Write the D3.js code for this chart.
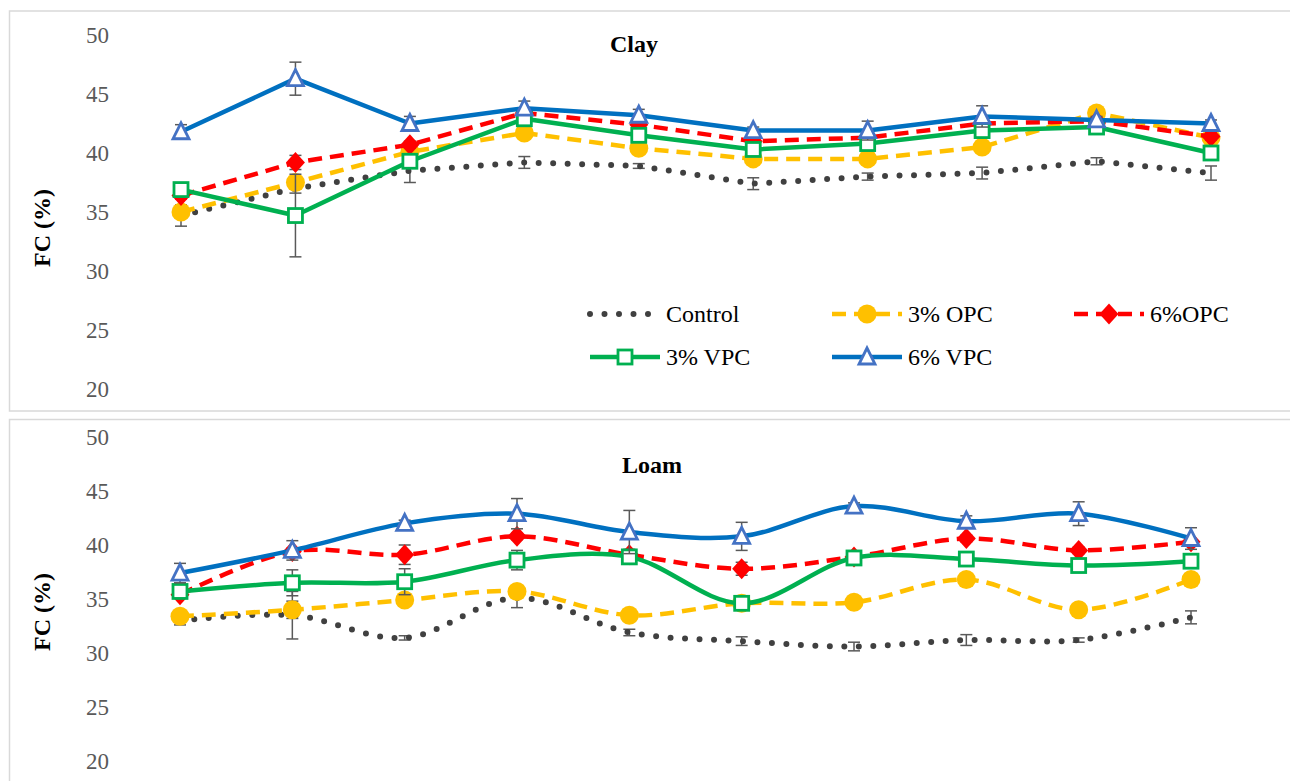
<!DOCTYPE html>
<html>
<head>
<meta charset="utf-8">
<script src="https://cdn.jsdelivr.net/npm/d3@7"></script>
<style>
  body { margin: 0; background: #fff; }
  svg { display: block; }
  svg text { font-family: "Liberation Serif", "Times New Roman", Times, "DejaVu Serif", serif; }
</style>
</head>
<body>
<svg id="chart" width="1290" height="781"></svg>
<script>
// ---------- DATA ----------
const categories = [1, 2, 3, 4, 5, 6, 7, 8, 9, 10];
const seriesNames = ["Control", "3% OPC", "6%OPC", "3% VPC", "6% VPC"];
const yTicks = [20, 25, 30, 35, 40, 45, 50];

// Clay
const clayControl = [34.7, 37.0, 38.5, 39.2, 38.9, 37.4, 38.0, 38.3, 39.3, 38.3];
const clay3OPC    = [35.0, 37.5, 40.1, 41.7, 40.4, 39.5, 39.5, 40.5, 43.4, 41.3];
const clay6OPC    = [36.4, 39.2, 40.7, 43.4, 42.4, 41.0, 41.3, 42.5, 42.7, 41.4];
const clay3VPC    = [36.9, 34.7, 39.3, 42.9, 41.5, 40.3, 40.8, 41.9, 42.2, 40.0];
const clay6VPC    = [41.8, 46.3, 42.5, 43.8, 43.2, 41.9, 41.9, 43.1, 42.8, 42.5];
const clayControlErr = [0.9, 0.4, 1.0, 0.5, 0.2, 0.5, 0.3, 0.5, 0.3, 0.6];
const clay3OPCErr    = [0.3, 0.3, 0.3, 0.3, 0.3, 0.3, 0.3, 0.3, 0.3, 0.3];
const clay6OPCErr    = [0.3, 0.6, 0.3, 0.3, 0.3, 0.3, 0.3, 0.3, 0.3, 0.3];
const clay3VPCErr    = [0.5, 3.5, 0.4, 0.3, 0.3, 0.3, 0.3, 0.3, 0.3, 0.4];
const clay6VPCErr    = [0.6, 1.4, 0.6, 0.6, 0.5, 0.3, 0.8, 0.9, 0.3, 0.3];

// Loam
const loamControl = [33.0, 33.5, 31.4, 35.1, 31.9, 31.1, 30.6, 31.2, 31.2, 33.3];
const loam3OPC    = [33.4, 34.0, 34.9, 35.7, 33.5, 34.6, 34.7, 36.8, 34.0, 36.8];
const loam6OPC    = [35.4, 39.4, 39.1, 40.8, 39.1, 37.8, 38.9, 40.6, 39.5, 40.3];
const loam3VPC    = [35.7, 36.5, 36.6, 38.6, 38.9, 34.6, 38.8, 38.7, 38.1, 38.5];
const loam6VPC    = [37.4, 39.5, 42.0, 42.9, 41.2, 40.8, 43.6, 42.2, 42.9, 40.6];
const loamControlErr = [0.4, 2.2, 0.2, 0.9, 0.3, 0.4, 0.4, 0.5, 0.2, 0.6];
const loam3OPCErr    = [0.3, 0.8, 0.3, 0.3, 0.3, 0.3, 0.3, 0.3, 0.3, 0.3];
const loam6OPCErr    = [0.3, 0.3, 0.9, 0.3, 0.5, 0.6, 0.3, 0.3, 0.3, 0.3];
const loam3VPCErr    = [0.3, 1.2, 1.2, 0.9, 0.3, 0.4, 0.5, 0.4, 0.5, 0.3];
const loam6VPCErr    = [0.9, 0.9, 0.3, 1.4, 2.0, 1.3, 0.3, 0.5, 1.1, 1.0];

// ---------- STYLES ----------
const styles = [
  { color: "#404040", dash: "0 14.5", width: 6, cap: "round", marker: "none" },
  { color: "#FFC000", dash: "14 8", width: 4.5, cap: "butt", marker: "circle" },
  { color: "#FF0000", dash: "14 8", width: 4.5, cap: "butt", marker: "diamond" },
  { color: "#00B050", dash: null, width: 4.5, cap: "butt", marker: "square", mstroke: "#00B050" },
  { color: "#0070C0", dash: null, width: 4.5, cap: "butt", marker: "triangle", mstroke: "#4472C4" }
];
const FONT = '"Liberation Serif", "Times New Roman", Times, serif';

const svg = d3.select("#chart");
svg.append("rect").attr("width", 1290).attr("height", 781).attr("fill", "#fff");

function drawMarker(g, type, x, y, st) {
  if (type === "circle") {
    g.append("circle").attr("cx", x).attr("cy", y).attr("r", 9.5).attr("fill", st.color);
  } else if (type === "diamond") {
    g.append("path").attr("d", `M${x},${y-10.5}L${x+9.5},${y}L${x},${y+10.5}L${x-9.5},${y}Z`).attr("fill", st.color);
  } else if (type === "square") {
    g.append("rect").attr("x", x-7).attr("y", y-7).attr("width", 14).attr("height", 14)
      .attr("fill", "#fff").attr("stroke", st.mstroke).attr("stroke-width", 2.8);
  } else if (type === "triangle") {
    g.append("path").attr("d", `M${x},${y-9}L${x+8},${y+7}L${x-8},${y+7}Z`)
      .attr("fill", "#fff").attr("stroke", st.mstroke).attr("stroke-width", 2.8);
  }
}

function drawPanel(cfg) {
  const g = svg.append("g");
  g.append("rect").attr("x", 9.5).attr("y", cfg.boxTop).attr("width", 1300).attr("height", cfg.boxH)
    .attr("fill", "none").attr("stroke", "#d9d9d9").attr("stroke-width", 1.5);

  const x = d3.scalePoint().domain(categories).range(cfg.xRange).padding(0);
  const y = d3.scaleLinear().domain([20, 50]).range(cfg.yRange);

  const yAxis = d3.axisLeft(y).tickValues(yTicks).tickSize(0).tickPadding(0);
  const ax = g.append("g").attr("transform", `translate(109,0)`).call(yAxis);
  ax.select(".domain").remove();
  ax.attr("font-family", FONT).attr("font-size", 23);
  ax.selectAll("text").style("font-family", FONT).attr("font-size", 23).attr("fill", "#595959").attr("dy", "0.34em");

  g.append("text").attr("transform", `translate(50,${cfg.yTitleY}) rotate(-90)`)
    .attr("text-anchor", "middle").style("font-family", FONT)
    .attr("font-weight", "bold").attr("font-size", 24).attr("fill", "#000").text("FC (%)");

  g.append("text").attr("x", cfg.titleX).attr("y", cfg.titleY).attr("text-anchor", "middle")
    .style("font-family", FONT)
    .attr("font-weight", "bold").attr("font-size", 24).attr("fill", "#000").text(cfg.title);

  const line = d3.line().x((d, i) => x(categories[i])).y(d => y(d)).curve(cfg.curve);

  cfg.series.forEach((vals, si) => {
    const st = styles[si];
    const sg = g.append("g");
    const errs = cfg.errors[si];
    vals.forEach((v, i) => {
      const cx = x(categories[i]);
      const y1 = y(v + errs[i]), y2 = y(v - errs[i]);
      sg.append("line").attr("x1", cx).attr("x2", cx).attr("y1", y1).attr("y2", y2)
        .attr("stroke", "#595959").attr("stroke-width", 1.5);
      [y1, y2].forEach(yy => sg.append("line").attr("x1", cx - 6).attr("x2", cx + 6)
        .attr("y1", yy).attr("y2", yy).attr("stroke", "#595959").attr("stroke-width", 1.5));
    });
    const p = sg.append("path").attr("d", line(vals)).attr("fill", "none")
      .attr("stroke", st.color).attr("stroke-width", st.width).attr("stroke-linecap", st.cap)
      .attr("stroke-linejoin", "round");
    if (st.dash) p.attr("stroke-dasharray", st.dash);
    vals.forEach((v, i) => drawMarker(sg, st.marker, x(categories[i]), y(v), st));
  });
  return g;
}

drawPanel({
  title: "Clay", titleX: 634, titleY: 52,
  boxTop: 11, boxH: 400,
  xRange: [181, 1211], yRange: [389, 35], yTitleY: 228,
  curve: d3.curveLinear,
  series: [clayControl, clay3OPC, clay6OPC, clay3VPC, clay6VPC],
  errors: [clayControlErr, clay3OPCErr, clay6OPCErr, clay3VPCErr, clay6VPCErr]
});

drawPanel({
  title: "Loam", titleX: 652, titleY: 473,
  boxTop: 419.5, boxH: 400,
  xRange: [180, 1191], yRange: [761, 437], yTitleY: 612,
  curve: d3.curveCatmullRom.alpha(0.5),
  series: [loamControl, loam3OPC, loam6OPC, loam3VPC, loam6VPC],
  errors: [loamControlErr, loam3OPCErr, loam6OPCErr, loam3VPCErr, loam6VPCErr]
});

// ---------- LEGEND ----------
const legendPos = [
  { x: 590, y: 314 }, { x: 832, y: 314 }, { x: 1074, y: 314 },
  { x: 590, y: 357 }, { x: 832, y: 357 }
];
const lg = svg.append("g");
seriesNames.forEach((name, i) => {
  const st = styles[i];
  const p = legendPos[i];
  const sampleW = i === 0 ? 62 : 70;
  const l = lg.append("line").attr("x1", p.x).attr("x2", p.x + sampleW).attr("y1", p.y).attr("y2", p.y)
    .attr("stroke", st.color).attr("stroke-width", st.width).attr("stroke-linecap", st.cap);
  if (st.dash) l.attr("stroke-dasharray", st.dash);
  drawMarker(lg, st.marker, p.x + 35, p.y, st);
  lg.append("text").attr("x", p.x + 76).attr("y", p.y).attr("dy", "0.35em")
    .style("font-family", FONT).attr("font-size", 24)
    .attr("fill", "#000").text(name);
});
</script>
</body>
</html>
